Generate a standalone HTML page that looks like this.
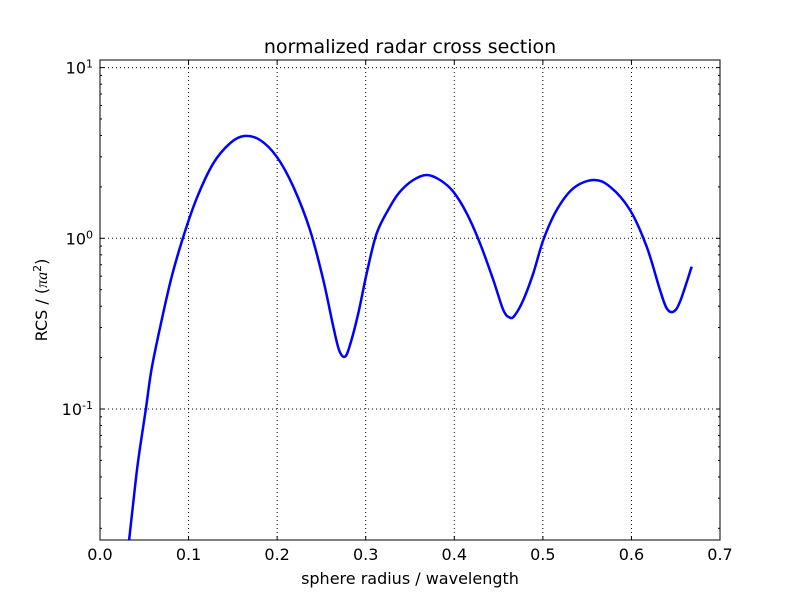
<!DOCTYPE html>
<html><head><meta charset="utf-8"><style>
body{margin:0;background:#fff;overflow:hidden;}
svg{display:block;font-family:"DejaVu Sans","Liberation Sans",sans-serif;}
</style></head><body>
<svg id="s" width="800" height="600" viewBox="0 0 800 600">
<rect width="800" height="600" fill="#fff"/>
<defs><clipPath id="c"><rect x="100" y="60" width="620" height="480"/></clipPath></defs>
<g id="grid" stroke="#000" stroke-width="1" stroke-dasharray="1,3"></g>
<path id="curve" clip-path="url(#c)" fill="none" stroke="#0000ff" stroke-width="2.5" stroke-linejoin="round"/>
<rect x="100" y="60" width="620" height="480" fill="none" stroke="#000" stroke-width="1"/>
<g id="ticks" stroke="#000" stroke-width="1"></g>
<g id="labels" font-size="16" fill="#000"></g>
<text x="410" y="53" font-size="19" text-anchor="middle">normalized radar cross section</text>
<text x="410" y="584" font-size="16" text-anchor="middle">sphere radius / wavelength</text>
<text transform="translate(47,300) rotate(-90)" font-size="16" text-anchor="middle">RCS / (<tspan font-style="italic" font-family="Liberation Serif,serif">πa</tspan><tspan font-size="11" dy="-6">2</tspan><tspan dy="6">)</tspan></text>
</svg>
<script>
var P=[[129,541],[133,505],[138,462],[146,408],[151.7,368.3],[161.7,320],[171.7,276.7],[183.3,236.7],[196.7,198.3],[213.3,163.3],[230,143.3],[244,136],[260,140],[276.7,156.7],[293.3,186.7],[310,230],[323.3,280],[333.3,326.7],[339.3,350.7],[345,356.7],[350,345],[358.3,313.3],[366.7,273.3],[376.7,233.3],[390,206.7],[400,191.7],[413.3,180],[426.7,175],[440,180],[453.3,191.7],[466.7,213.3],[480,243.3],[493.3,280],[503.3,310],[510,317.7],[515,315],[523.3,300],[533.3,273.3],[543.3,240],[556.7,210],[573.3,188.3],[593.3,180],[610,186.7],[630,210],[646.7,246.7],[660,290],[666.7,308.3],[673.3,311.7],[680,301.7],[691.7,266.7]];
var d="M"+P[0][0]+","+P[0][1];
for(var i=0;i<P.length-1;i++){var p0=P[Math.max(0,i-1)],p1=P[i],p2=P[i+1],p3=P[Math.min(P.length-1,i+2)];
var c1=[p1[0]+(p2[0]-p0[0])/6,p1[1]+(p2[1]-p0[1])/6],c2=[p2[0]-(p3[0]-p1[0])/6,p2[1]-(p3[1]-p1[1])/6];
d+="C"+c1[0].toFixed(2)+","+c1[1].toFixed(2)+" "+c2[0].toFixed(2)+","+c2[1].toFixed(2)+" "+p2[0]+","+p2[1];}
document.getElementById("curve").setAttribute("d",d);
var X0=100,SX=620/0.7,Y0=238.3,SY=170.7;
function px(x){return X0+SX*x;} function py(v){return Y0-SY*Math.log10(v);}
var ns="http://www.w3.org/2000/svg";
function el(p,t,a,txt){var e=document.createElementNS(ns,t);for(var k in a)e.setAttribute(k,a[k]);if(txt!==undefined)e.textContent=txt;document.getElementById(p).appendChild(e);return e;}
for(var i=1;i<7;i++){var x=px(i/10);el("grid","line",{x1:x,x2:x,y1:60,y2:540});}
[1,0,-1].forEach(function(d){var y=py(Math.pow(10,d));el("grid","line",{x1:100,x2:720,y1:y,y2:y});});
for(var i=0;i<=7;i++){var x=px(i/10);el("ticks","line",{x1:x,x2:x,y1:540,y2:536});el("ticks","line",{x1:x,x2:x,y1:60,y2:64});
el("labels","text",{x:x,y:560,"text-anchor":"middle"},(i/10).toFixed(1));}
for(var dd=-2;dd<=1;dd++){for(var m=1;m<10;m++){var v=m*Math.pow(10,dd);var y=py(v);if(y<59.5||y>540.5)continue;var L=m==1?4:2;
el("ticks","line",{x1:100,x2:100+L,y1:y,y2:y});el("ticks","line",{x1:720,x2:720-L,y1:y,y2:y});}}
[[1,"1"],[0,"0"],[-1,"-1"]].forEach(function(a){var y=py(Math.pow(10,a[0]));var t=el("labels","text",{x:93,y:y+6,"text-anchor":"end"});
t.innerHTML='10<tspan font-size="11" dy="-6">'+a[1]+'</tspan>';});
</script>
</body></html>
